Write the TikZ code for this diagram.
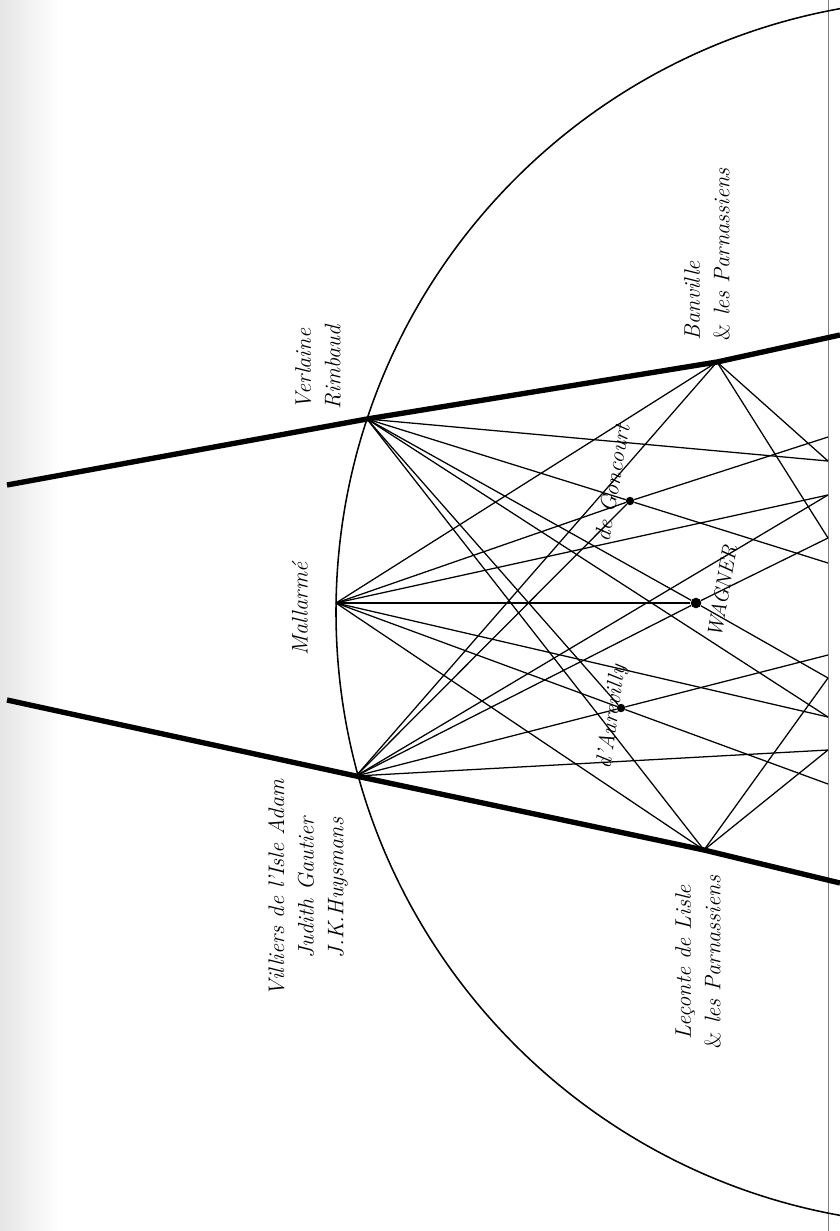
\documentclass[tikz,border=0pt]{standalone}

\tikzstyle{ray} = [line width=0.9pt]
\tikzstyle{bar} = [line width=3.8pt]
\tikzstyle{arcline} = [line width=1.1pt]
\tikzstyle{dot} = [circle, fill, inner sep=0pt, minimum size=6pt]
\tikzstyle{poet} = [rotate=90, align=center, font=\itshape\fontsize{16}{21}\selectfont]

\begin{document}
\begin{tikzpicture}[x=0.025cm, y=-0.025cm]
	\useasboundingbox (0,0) rectangle (840,1231);
	\shade[left color=black!10, right color=white] (0,0) rectangle (60,1231);
	\draw[gray, line width=0.7pt] (828,0) -- (828,1231);

	% poets on the circle and on the bars
	\coordinate (ver) at (367,419);
	\coordinate (mal) at (336,603);
	\coordinate (vil) at (356,776);
	\coordinate (ban) at (717,362);
	\coordinate (lec) at (704,850);
	\coordinate (topl) at (7,485);
	\coordinate (topr) at (840,335);
	\coordinate (botl) at (7,700);
	\coordinate (botr) at (840,883);

	% points on the fold
	\coordinate (r437) at (828,437);
	\coordinate (r461) at (828,461);
	\coordinate (r495) at (828,495);
	\coordinate (r538) at (828,538);
	\coordinate (r563) at (828,563);
	\coordinate (r655) at (828,655);
	\coordinate (r678) at (828,678);
	\coordinate (r717) at (828,717);
	\coordinate (r750) at (828,750);
	\coordinate (r784) at (828,784);

	\begin{scope}
		\clip (0,0) rectangle (840,1231);
		\draw[arcline] (949,612) circle[radius=613];
		\draw[bar] (topl) -- (ver) -- (ban) -- (topr);
		\draw[bar] (botl) -- (vil) -- (lec) -- (botr);
	\end{scope}

	\node[dot] (gon) at (630,501) {};
	\node[dot, minimum size=7.5pt] (wag) at (696,603) {};
	\node[dot] (aur) at (621,708) {};

	% rays
	\foreach \a/\b in {ver/r461, ver/r717, ver/aur, ver/lec, mal/ban, mal/r495, mal/wag,
		mal/r717, mal/lec, vil/ban, vil/gon, vil/r495, vil/r750, ban/r461, ban/r538,
		lec/r678, lec/r750}
		\draw[ray] (\a) -- (\b);
	\draw[ray] (ver) -- (gon) -- (r563);
	\draw[ray] (ver) -- (wag) -- (r678);
	\draw[ray] (mal) -- (gon) -- (r437);
	\draw[ray] (mal) -- (aur) -- (r784);
	\draw[ray] (vil) -- (wag) -- (r538);
	\draw[ray] (vil) -- (aur) -- (r655);

	% names
	\node[poet, align=left, anchor=west] (verlab) at (318,414) {Verlaine\\Rimbaud};
	\node[poet] (mallab) at (300,609) {Mallarm\'e};
	\node[poet] (villab) at (308,888) {Villiers de l'Isle Adam\\Judith Gautier\\J.K.Huysmans};
	\node[poet, align=left, anchor=west] (banlab) at (707,345) {Banville\\\textup{\&} les Parnassiens};
	\node[poet] (leclab) at (698,962) {Le\c conte de Lisle\\\textup{\&} les Parnassiens};
	\node[poet, rotate=-10] (gonlab) at (612,483) {de Goncourt};
	\node[poet, rotate=-10, font=\itshape\fontsize{15}{17}\selectfont] (waglab) at (722,591) {WAGNER};
	\node[poet, rotate=-8] (aurlab) at (612,717) {d'Aurevilly};
\end{tikzpicture}
\end{document}
